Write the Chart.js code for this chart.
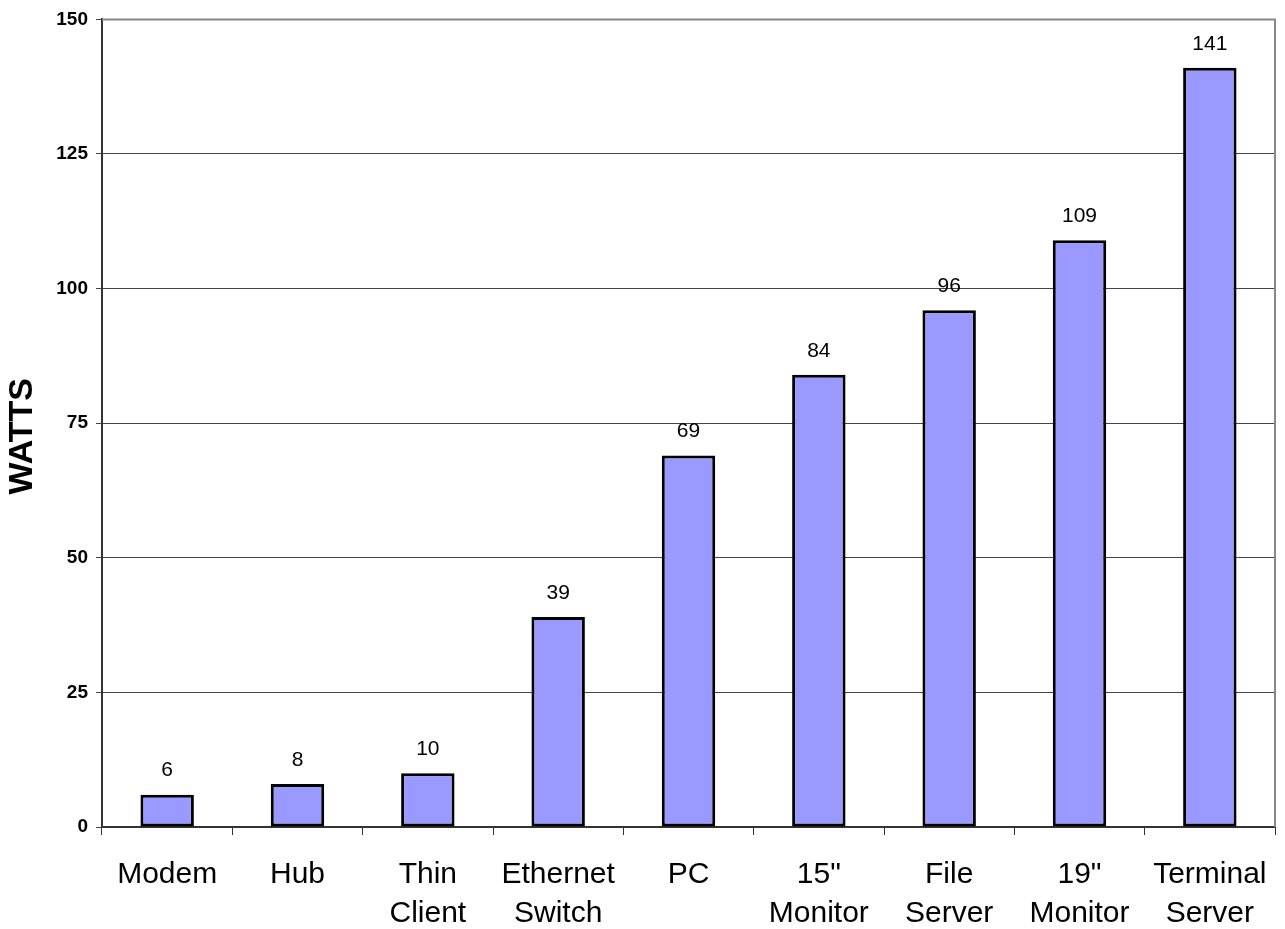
<!DOCTYPE html>
<html>
<head>
<meta charset="utf-8">
<script src="https://cdn.jsdelivr.net/npm/chart.js@4"></script>
<style>
  body { margin: 0; background: #fff; }
  #wrap { width: 1285px; height: 929px; }
</style>
</head>
<body>
<div id="wrap"><canvas id="powerChart"></canvas></div>
<script>
const categories = [
  ['Modem'], ['Hub'], ['Thin', 'Client'], ['Ethernet', 'Switch'], ['PC'],
  ['15"', 'Monitor'], ['File', 'Server'], ['19"', 'Monitor'], ['Terminal', 'Server']
];
const watts = [6, 8, 10, 39, 69, 84, 96, 109, 141];
const yTicks = [0, 25, 50, 75, 100, 125, 150];
const yTitle = 'WATTS';

const FONT = "'Liberation Sans', Arial, sans-serif";

// value above each bar
const barLabels = {
  id: 'barLabels',
  afterDatasetsDraw(chart) {
    const ctx = chart.ctx;
    const meta = chart.getDatasetMeta(0);
    ctx.save();
    ctx.font = '21px ' + FONT;
    ctx.fillStyle = '#000';
    ctx.textAlign = 'center';
    ctx.textBaseline = 'middle';
    meta.data.forEach((bar, i) => {
      ctx.fillText(String(watts[i]), bar.x, bar.y - 24);
    });
    ctx.restore();
  }
};

// grey frame on top and right, plus the rotated axis title
const plotFrame = {
  id: 'plotFrame',
  afterDraw(chart) {
    const a = chart.chartArea;
    const ctx = chart.ctx;
    ctx.save();
    ctx.strokeStyle = '#888';
    ctx.lineWidth = 2;
    ctx.beginPath();
    ctx.moveTo(a.left, a.top);
    ctx.lineTo(a.right, a.top);
    ctx.lineTo(a.right, a.bottom);
    ctx.stroke();

    ctx.translate(23, (a.top + a.bottom) / 2 + 13);
    ctx.rotate(-Math.PI / 2);
    ctx.font = 'bold 34px ' + FONT;
    ctx.fillStyle = '#000';
    ctx.textAlign = 'center';
    ctx.textBaseline = 'middle';
    ctx.fillText(yTitle, 0, 0);
    ctx.restore();
  }
};

new Chart(document.getElementById('powerChart'), {
  type: 'bar',
  data: {
    labels: categories,
    datasets: [{
      data: watts,
      backgroundColor: '#9999FF',
      borderColor: '#000',
      borderWidth: 3,
      borderSkipped: false,
      barPercentage: 0.41,
      categoryPercentage: 1.0
    }]
  },
  options: {
    responsive: true,
    maintainAspectRatio: false,
    animation: false,
    layout: { padding: { top: 19, right: 10, bottom: 0, left: 0 } },
    plugins: {
      legend: { display: false },
      tooltip: { enabled: false }
    },
    scales: {
      x: {
        afterFit(scale) {
          scale.height = 102;
          scale.paddingLeft = 0;
          scale.paddingRight = 0;
        },
        grid: {
          offset: true,
          drawOnChartArea: false,
          drawTicks: true,
          tickLength: 8,
          color: '#333',
          lineWidth: 1
        },
        border: { color: '#333', width: 2 },
        ticks: {
          color: '#000',
          padding: 20,
          maxRotation: 0,
          autoSkip: false,
          font: { family: FONT, size: 30, lineHeight: 1.3 }
        }
      },
      y: {
        min: 0,
        max: 150,
        afterFit(scale) { scale.width = 102; },
        afterBuildTicks(scale) { scale.ticks = yTicks.map(v => ({ value: v })); },
        grid: {
          color: '#444',
          lineWidth: 1,
          tickLength: 6
        },
        border: { color: '#333', width: 2 },
        ticks: {
          color: '#000',
          padding: 8,
          font: { family: FONT, size: 19, weight: 'bold' }
        }
      }
    }
  },
  plugins: [barLabels, plotFrame]
});
</script>
</body>
</html>
